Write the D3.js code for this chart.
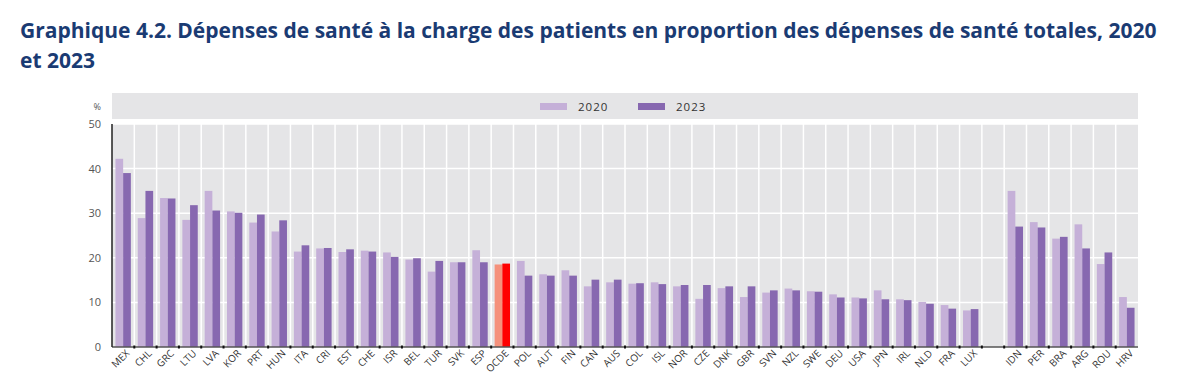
<!DOCTYPE html>
<html>
<head>
<meta charset="utf-8">
<script src="https://cdn.jsdelivr.net/npm/d3@7"></script>
<style>
  body { margin: 0; background: #fff; }
  svg { display: block; font-family: "Open Sans", "DejaVu Sans", sans-serif; }
</style>
</head>
<body>
<div id="chart"></div>
<script>
// Categories ("" is the gap before the partner countries)
const countries = ["MEX","CHL","GRC","LTU","LVA","KOR","PRT","HUN","ITA","CRI","EST","CHE",
  "ISR","BEL","TUR","SVK","ESP","OCDE","POL","AUT","FIN","CAN","AUS","COL","ISL","NOR","CZE",
  "DNK","GBR","SVN","NZL","SWE","DEU","USA","JPN","IRL","NLD","FRA","LUX","",
  "IDN","PER","BRA","ARG","ROU","HRV"];

const values2020 = [42.2,28.9,33.4,28.5,35.0,30.4,27.9,25.9,21.4,22.1,21.3,21.6,
  21.2,19.6,16.9,19.0,21.7,18.5,19.3,16.3,17.2,13.6,14.5,14.2,14.5,13.6,10.8,
  13.2,11.2,12.2,13.1,12.5,11.8,11.1,12.7,10.7,10.1,9.4,8.2,null,
  35.0,28.0,24.3,27.5,18.6,11.2];

const values2023 = [39.0,35.0,33.3,31.8,30.6,30.1,29.7,28.4,22.8,22.2,21.9,21.4,
  20.2,19.9,19.3,19.0,19.0,18.7,16.0,16.0,16.0,15.1,15.1,14.3,14.1,13.9,13.9,
  13.6,13.6,12.7,12.7,12.4,11.1,10.9,10.7,10.5,9.7,8.6,8.5,null,
  27.0,26.8,24.7,22.1,21.2,8.8];

const years = ["2020", "2023"];
const yTicks = [0, 10, 20, 30, 40, 50];

const width = 1200, height = 383;
const plotLeft = 112, plotRight = 1138, plotTop = 124, plotBottom = 347;

const colors = { "2020": "#c5b0d8", "2023": "#8768b0" };
const oecdColors = { "2020": "#f5917c", "2023": "#ff0000" };

const svg = d3.select("#chart").append("svg")
  .attr("width", width).attr("height", height);

// Title
const title = svg.append("g").attr("fill", "#1a3b73").attr("font-weight", "bold")
  .attr("font-size", 21);
title.append("text").attr("x", 20).attr("y", 38)
  .text("Graphique 4.2. Dépenses de santé à la charge des patients en proportion des dépenses de santé totales, 2020");
title.append("text").attr("x", 20).attr("y", 68).text("et 2023");

// Scales
const x0 = d3.scaleBand().domain(countries.map((d, i) => i)).range([plotLeft, plotRight]).padding(0);
const x1 = d3.scaleBand().domain(years).range([0, x0.bandwidth()]).paddingInner(0).paddingOuter(0.45);
const y = d3.scaleLinear().domain([0, 50]).range([plotBottom, plotTop]);

// Legend box
svg.append("rect").attr("x", plotLeft).attr("y", 93).attr("width", plotRight - plotLeft).attr("height", 26)
  .attr("fill", "#e5e5e7");
const legend = svg.append("g").attr("font-size", 11.5).attr("fill", "#333").attr("letter-spacing", 1);
[["2020", 540], ["2023", 638]].forEach(([k, lx]) => {
  legend.append("rect").attr("x", lx).attr("y", 103).attr("width", 27).attr("height", 7)
    .attr("fill", colors[k]);
  legend.append("text").attr("x", lx + 38).attr("y", 110.5).text(k);
});

// Plot background
svg.append("rect").attr("x", plotLeft).attr("y", plotTop).attr("width", plotRight - plotLeft)
  .attr("height", plotBottom - plotTop).attr("fill", "#e5e5e7");

// Horizontal gridlines
svg.selectAll(".hgrid").data(yTicks.filter(t => t > 0)).enter().append("line")
  .attr("x1", plotLeft).attr("x2", plotRight)
  .attr("y1", d => y(d)).attr("y2", d => y(d))
  .attr("stroke", "#fff").attr("stroke-width", 1.5);

// Vertical gridlines between categories
const bounds = countries.slice(1).map((d, i) => i + 1);
svg.selectAll(".vgrid").data(bounds).enter().append("line")
  .attr("x1", d => x0(d)).attr("x2", d => x0(d))
  .attr("y1", plotTop).attr("y2", plotBottom)
  .attr("stroke", "#fff").attr("stroke-width", 1.5);

// Bars
const groups = svg.selectAll(".grp").data(countries.map((c, i) => ({ c, i }))).enter().append("g")
  .attr("transform", d => `translate(${x0(d.i)},0)`);
groups.selectAll("rect")
  .data(d => years.map((yr, j) => ({ c: d.c, yr, v: (j === 0 ? values2020 : values2023)[d.i] }))
    .filter(e => e.v !== null))
  .enter().append("rect")
  .attr("x", d => x1(d.yr))
  .attr("width", x1.bandwidth())
  .attr("y", d => y(d.v))
  .attr("height", d => y(0) - y(d.v))
  .attr("fill", d => d.c === "OCDE" ? oecdColors[d.yr] : colors[d.yr]);

// Axis lines
svg.append("line").attr("x1", plotLeft).attr("x2", plotRight).attr("y1", plotBottom).attr("y2", plotBottom)
  .attr("stroke", "#555").attr("stroke-width", 1.5);
svg.append("line").attr("x1", plotLeft).attr("x2", plotLeft).attr("y1", plotTop).attr("y2", plotBottom)
  .attr("stroke", "#222").attr("stroke-width", 1.5);

// Small ticks on baseline
svg.selectAll(".tick").data(bounds).enter().append("rect")
  .attr("x", d => x0(d) - 1).attr("y", plotBottom - 1.5).attr("width", 2).attr("height", 3)
  .attr("fill", "#111");

// Y axis labels
svg.selectAll(".ylab").data(yTicks).enter().append("text")
  .attr("x", 101).attr("y", d => y(d) + 4)
  .attr("text-anchor", "end").attr("font-size", 11).attr("fill", "#555")
  .text(d => d);
svg.append("text").attr("x", 101).attr("y", 110).attr("text-anchor", "end")
  .attr("font-size", 9).attr("fill", "#555").text("%");

// X labels
svg.selectAll(".xlab").data(countries.map((c, i) => ({ c, i })).filter(d => d.c)).enter().append("text")
  .attr("transform", d => `translate(${x0(d.i) + x0.bandwidth() / 2 + 7},${plotBottom + 7}) rotate(-45)`)
  .attr("text-anchor", "end").attr("font-size", 10).attr("fill", "#333")
  .text(d => d.c);
</script>
</body>
</html>
